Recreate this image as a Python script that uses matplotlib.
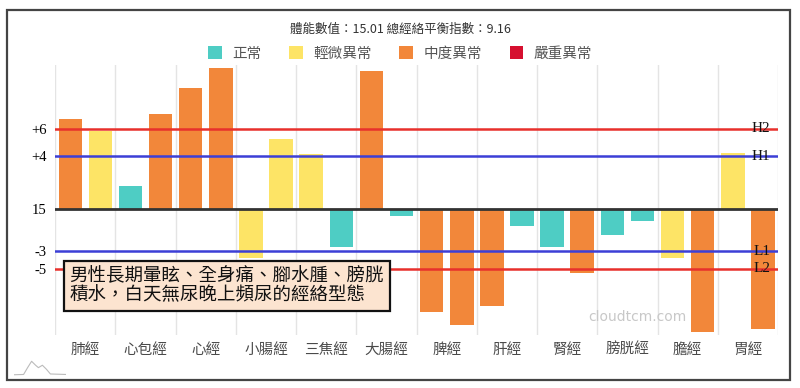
import matplotlib
matplotlib.use("Agg")
import matplotlib.pyplot as plt
from matplotlib.patches import Patch, Rectangle

plt.rcParams['font.family'] = ['Noto Sans CJK TC', 'DejaVu Sans']

# 經絡名稱（每條經絡左右兩側各一根柱）
meridians = ["肺經", "心包經", "心經", "小腸經", "三焦經", "大腸經",
             "脾經", "肝經", "腎經", "膀胱經", "膽經", "胃經"]
values = [6.8, 5.86, 1.69, 7.17, 9.11, 10.66,
          -3.73, 5.30, 4.14, -2.90, 10.45, -0.53,
          -7.83, -8.84, -7.40, -1.29, -2.93, -4.87,
          -2.02, -0.96, -3.73, -9.30, 4.19, -9.09]
levels = ["中度", "輕微", "正常", "中度", "中度", "中度",
          "輕微", "輕微", "輕微", "正常", "中度", "正常",
          "中度", "中度", "中度", "正常", "正常", "中度",
          "正常", "正常", "輕微", "中度", "輕微", "中度"]

legend_names = ["正常", "輕微異常", "中度異常", "嚴重異常"]
level_keys = ["正常", "輕微", "中度", "嚴重"]
level_colors = ["#4ECDC4", "#FDE466", "#F2873A", "#D6102F"]

# 參考線
ref_vals = [6.04, 3.96, -3.23, -4.55]
ref_ticks = ["+6", "+4", "-3", "-5"]
ref_names = ["H2", "H1", "L1", "L2"]
ref_colors = ["#E8302C", "#3C3FD6", "#3C3FD6", "#E8302C"]
base_label = "15"

title = "體能數值：15.01 總經絡平衡指數：9.16"
note = "男性長期暈眩、全身痛、腳水腫、膀胱\n積水，白天無尿晚上頻尿的經絡型態"

fig = plt.figure(figsize=(8, 3.88), dpi=100)
ax = fig.add_axes([0.069, 0.137, 0.9035, 0.696])

cmap = dict(zip(level_keys, level_colors))
x = list(range(len(values)))
ax.bar(x, values, width=0.78, color=[cmap[l] for l in levels], zorder=2)

ax.set_xlim(-0.5, len(values) - 0.5)
ax.set_ylim(-9.55, 10.9)

for b in range(0, len(values) + 1, 2):
    ax.axvline(b - 0.5, color="#e4e4e4", lw=1, zorder=0)

ax.axhline(0, color="#333333", lw=2, zorder=3)
for v, c, n in zip(ref_vals, ref_colors, ref_names):
    ax.axhline(v, color=c, lw=1.8, zorder=3)
    ax.text(len(values) - 0.75, v, n, ha="right", va="center", fontsize=11,
            family="Liberation Serif", color="#111111", zorder=4)

ax.set_yticks([0] + ref_vals)
ax.set_yticklabels([base_label] + ref_ticks, family="Liberation Serif", fontsize=10.5)
ax.set_xticks([i * 2 + 0.5 for i in range(len(meridians))])
ax.set_xticklabels(meridians, fontsize=10.5, color="#4a4a4a")
ax.tick_params(axis="both", length=0, pad=6)
for s in ax.spines.values():
    s.set_visible(False)

fig.text(0.5, 0.925, title, ha="center", va="center", fontsize=9, color="#333333")
handles = [Patch(facecolor=c, edgecolor="none") for c in level_colors]
fig.legend(handles, legend_names, loc="center", bbox_to_anchor=(0.5, 0.862), ncol=4,
           frameon=False, fontsize=10.5, handlelength=0.95, handleheight=0.95,
           handletextpad=0.7, columnspacing=1.9, labelcolor="#555555")

ax.text(0.02, 0.112, note, transform=ax.transAxes, fontsize=13.3, color="#111111",
        ha="left", va="bottom", linespacing=1.1, zorder=6,
        bbox=dict(boxstyle="square,pad=0.32", facecolor="#FCE4D0", edgecolor="#111111", lw=1.6))

ax.text(0.805, 0.067, "cloudtcm.com", transform=ax.transAxes, fontsize=10, color="#c8c8c8",
        ha="center", va="center", family="DejaVu Sans", zorder=1)

# 左下角小標誌
logo = fig.add_axes([0.017, 0.03, 0.065, 0.045])
logo.plot([0, 0.25, 0.35, 0.45, 0.55, 0.62, 0.72, 0.82, 0.92, 1.3],
          [0, 0.02, 0.45, 0.85, 0.6, 0.45, 0.6, 0.35, 0.05, 0.02],
          color="#bbbbbb", lw=0.8)
logo.set_xlim(0, 1.3)
logo.set_ylim(-0.1, 1)
logo.axis("off")

# 外框
fig.add_artist(Rectangle((7 / 800, 1 - 380 / 388), 783 / 800, 370 / 388,
                         transform=fig.transFigure, fill=False, edgecolor="#444444", lw=1.6))

fig.savefig("out.png", dpi=100)
